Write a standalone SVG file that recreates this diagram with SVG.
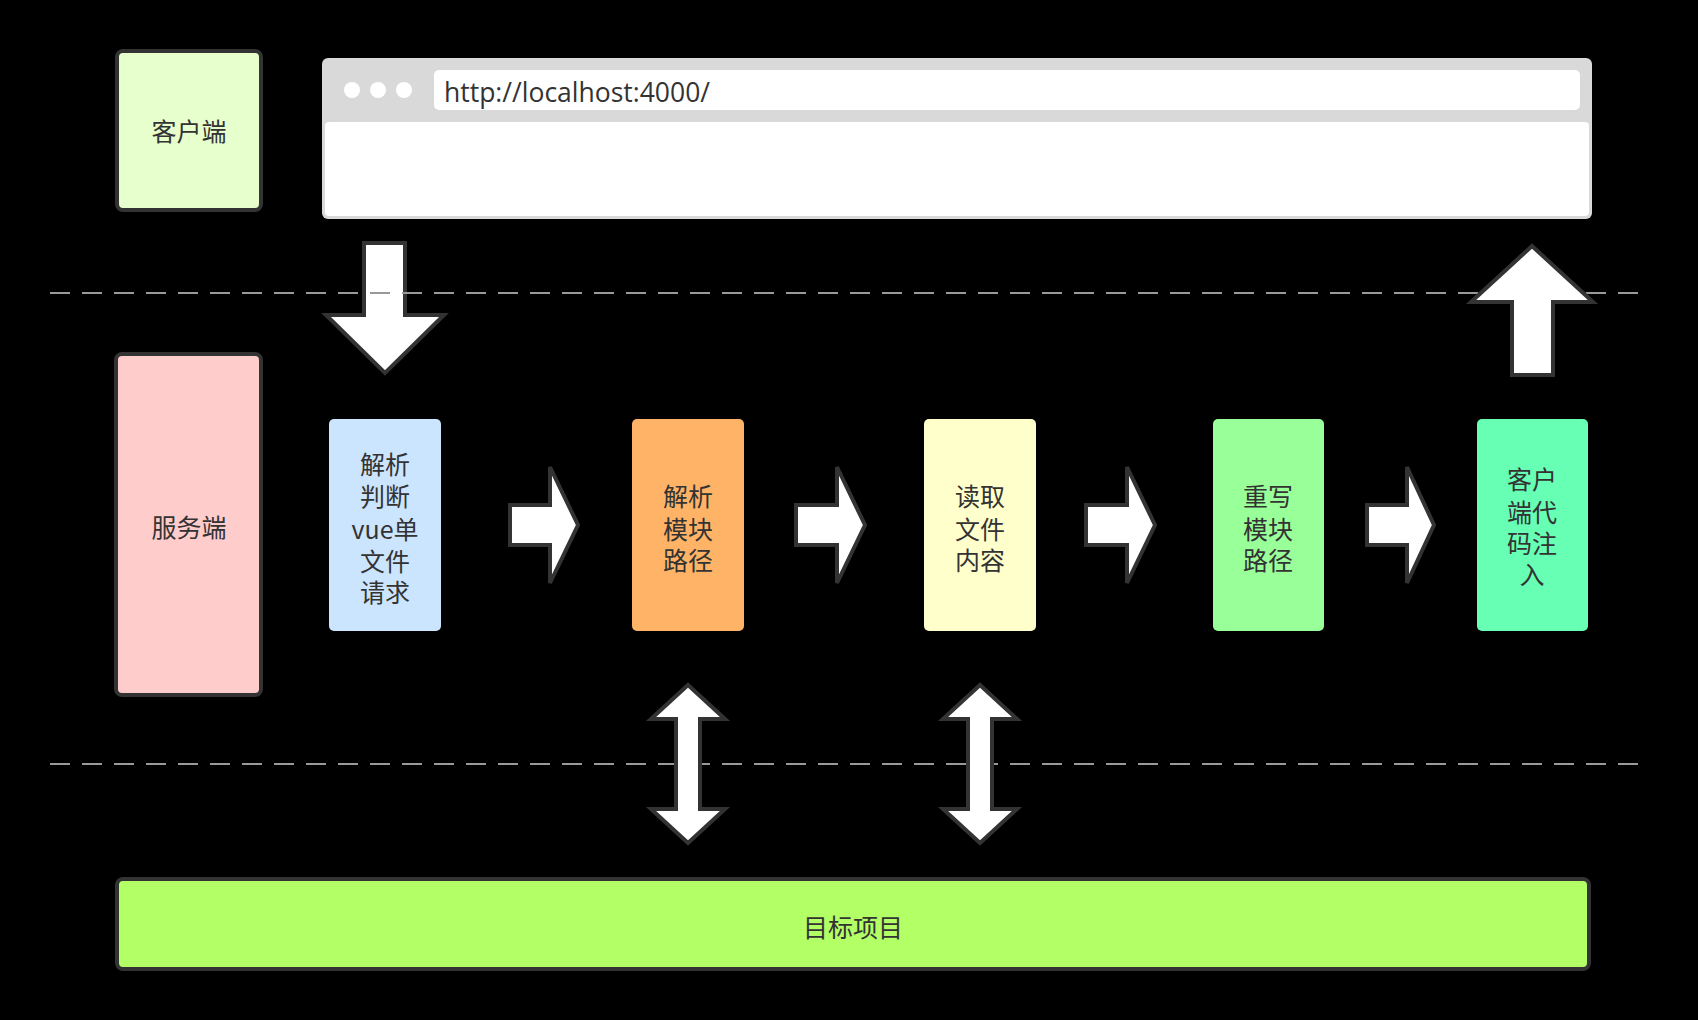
<svg xmlns="http://www.w3.org/2000/svg" width="1698" height="1020" viewBox="0 0 1698 1020">
<style>
.bg{fill:#000}
.t{font-family:"Noto Sans CJK SC","Liberation Sans",sans-serif;font-size:25px;fill:#333;text-anchor:middle}
.box{stroke:#333;stroke-width:4}
.arr{fill:#fff;stroke:#333;stroke-width:4;stroke-linejoin:miter}
.dash{stroke:#999;stroke-width:2;stroke-dasharray:20 12;fill:none}
</style>
<rect class="bg" x="0" y="0" width="1698" height="1020"/>

<g id="client">
<rect class="box" x="117" y="51" width="144" height="159" rx="6" fill="#e6ffcc"/>
<text class="t" x="189" y="141">客户端</text>
</g>

<g id="browser">
<rect x="322" y="58" width="1270" height="161" rx="6" fill="#d9d9d9"/>
<rect x="325" y="122" width="1264" height="94" rx="4" fill="#fff"/>
<circle cx="352" cy="90" r="8" fill="#fff"/>
<circle cx="378" cy="90" r="8" fill="#fff"/>
<circle cx="404" cy="90" r="8" fill="#fff"/>
<rect x="434" y="70" width="1146" height="40" rx="5" fill="#fff"/>
<text x="444" y="102" font-family="'Open Sans','Liberation Sans',sans-serif" font-size="26.5" fill="#333">http://localhost:4000/</text>
</g>

<g id="server">
<rect class="box" x="116" y="354" width="145" height="341" rx="6" fill="#ffcccc"/>
<text class="t" x="189" y="537">服务端</text>
</g>

<g id="n1">
<rect x="329" y="419" width="112" height="212" rx="5" fill="#cce5ff"/>
<text class="t"><tspan x="385" y="474">解析</tspan><tspan x="385" y="506">判断</tspan><tspan x="385" y="539">vue单</tspan><tspan x="385" y="571">文件</tspan><tspan x="385" y="602">请求</tspan></text>
</g>
<g id="n2">
<rect x="632" y="419" width="112" height="212" rx="5" fill="#ffb366"/>
<text class="t"><tspan x="688" y="506">解析</tspan><tspan x="688" y="539">模块</tspan><tspan x="688" y="570">路径</tspan></text>
</g>
<g id="n3">
<rect x="924" y="419" width="112" height="212" rx="5" fill="#ffffcc"/>
<text class="t"><tspan x="980" y="506">读取</tspan><tspan x="980" y="539">文件</tspan><tspan x="980" y="570">内容</tspan></text>
</g>
<g id="n4">
<rect x="1213" y="419" width="111" height="212" rx="5" fill="#99ff99"/>
<text class="t"><tspan x="1268" y="506">重写</tspan><tspan x="1268" y="539">模块</tspan><tspan x="1268" y="570">路径</tspan></text>
</g>
<g id="n5">
<rect x="1477" y="419" width="111" height="212" rx="5" fill="#66ffb3"/>
<text class="t"><tspan x="1532" y="489">客户</tspan><tspan x="1532" y="522">端代</tspan><tspan x="1532" y="553">码注</tspan><tspan x="1532" y="584">入</tspan></text>
</g>

<g id="target">
<rect class="box" x="117" y="879" width="1472" height="90" rx="6" fill="#b3ff66"/>
<text class="t" x="853" y="937">目标项目</text>
</g>

<g id="connectors">
<polygon class="arr" points="364,243 405,243 405,315 444,315 385,373 326,315 364,315"/>
<line class="dash" x1="50" y1="293" x2="1640" y2="293"/>
<polygon class="arr" points="1532,246 1593,302 1553,302 1553,375 1512,375 1512,302 1471,302"/>
<line class="dash" x1="50" y1="764" x2="1640" y2="764"/>
<polygon class="arr" points="510,505 550,505 550,467 578,525 550,583 550,545 510,545"/>
<polygon class="arr" points="796,505 837,505 837,467 865,525 837,583 837,545 796,545"/>
<polygon class="arr" points="1086,505 1127,505 1127,467 1155,525 1127,583 1127,545 1086,545"/>
<polygon class="arr" points="1367,505 1407,505 1407,467 1434,525 1407,583 1407,545 1367,545"/>
<polygon class="arr" points="688,685 725,719 700,719 700,809 725,809 688,843 651,809 676,809 676,719 651,719"/>
<polygon class="arr" points="980,685 1017,719 992,719 992,809 1017,809 980,843 943,809 968,809 968,719 943,719"/>
</g>
</svg>
